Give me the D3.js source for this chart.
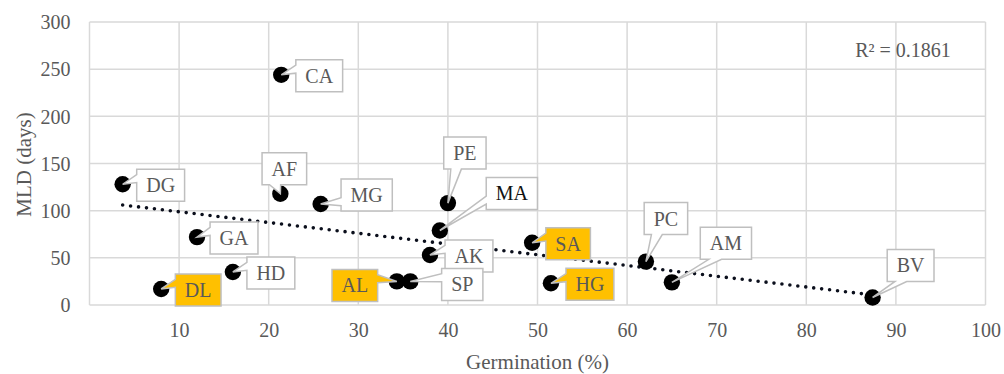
<!DOCTYPE html>
<html>
<head>
<meta charset="utf-8">
<script src="https://cdn.jsdelivr.net/npm/d3@7"></script>
<style>
  body { margin: 0; background: #fff; }
  svg { display: block; }
  text { font-family: "Liberation Serif", "Times New Roman", serif; }
</style>
</head>
<body>
<svg id="chart" width="1004" height="374"></svg>
<script>
// Sample codes with germination (%) and MLD (days)
const codes       = ["CA", "DG", "AF", "MG", "GA", "HD", "DL", "PE", "MA", "AK", "AL", "SP", "SA", "HG", "PC", "AM", "BV"];
const germination = [21.4, 3.7, 21.3, 25.8, 12.0, 16.0, 8.0, 40.0, 39.1, 38.0, 34.3, 35.8, 49.4, 51.5, 62.1, 65.0, 87.4];
const mld         = [244, 128, 118, 107, 72, 35, 17, 108, 79, 53, 25, 25, 66, 23, 46, 24, 8];

// Samples whose label is shaded
const highlighted = ["DL", "AL", "SA", "HG"];
const darkLabels = ["MA"];

const xTicks = [10, 20, 30, 40, 50, 60, 70, 80, 90, 100];
const yTicks = [0, 50, 100, 150, 200, 250, 300];
const xTitle = "Germination (%)";
const yTitle = "MLD (days)";
const rSquaredLabel = "R² = 0.1861";

// Callout placement: box centre relative to its point, in pixels
const calloutOffset = {
  CA: [38, 1], DG: [38, 1], AF: [4, -25], MG: [46, -9], GA: [37, 1], HD: [38, 1],
  DL: [37, 1], PE: [17, -50], MA: [72, -37], AK: [39, 1], AL: [-42, 4], SP: [52, 3],
  SA: [36, 1], HG: [39, 1], PC: [20, -43], AM: [54, -39], BV: [38, -32]
};

const svg = d3.select("#chart");
const plot = { left: 89.5, right: 985.5, top: 22, bottom: 305 };

const x = d3.scaleLinear().domain([0, 100]).range([plot.left, plot.right]);
const y = d3.scaleLinear().domain([0, 300]).range([plot.bottom, plot.top]);

const gridColor = "#d9d9d9";
const textColor = "#595959";

// Grid
const grid = svg.append("g");
grid.selectAll("line.v").data([0, ...xTicks]).join("line")
  .attr("x1", d => x(d)).attr("x2", d => x(d))
  .attr("y1", plot.top).attr("y2", plot.bottom)
  .attr("stroke", gridColor).attr("stroke-width", 1.5);
grid.selectAll("line.h").data(yTicks).join("line")
  .attr("y1", d => y(d)).attr("y2", d => y(d))
  .attr("x1", plot.left).attr("x2", plot.right)
  .attr("stroke", gridColor).attr("stroke-width", 1.5);

// Axes (labels only)
const xAxis = svg.append("g")
  .attr("transform", `translate(0,${plot.bottom})`)
  .call(d3.axisBottom(x).tickValues(xTicks).tickSize(0).tickPadding(0));
xAxis.select(".domain").remove();
xAxis.selectAll("text")
  .attr("y", 32).attr("dy", 0)
  .attr("fill", textColor).style("font-size", "20px")
  .style("font-family", "'Liberation Serif', 'Times New Roman', serif");

const yAxis = svg.append("g")
  .attr("transform", `translate(${plot.left},0)`)
  .call(d3.axisLeft(y).tickValues(yTicks).tickSize(0).tickPadding(0));
yAxis.select(".domain").remove();
yAxis.selectAll("text")
  .attr("x", -19).attr("dy", "0.34em")
  .attr("fill", textColor).style("font-size", "20px")
  .style("font-family", "'Liberation Serif', 'Times New Roman', serif");

// Axis titles
svg.append("text")
  .attr("x", (plot.left + plot.right) / 2).attr("y", 369)
  .attr("text-anchor", "middle").attr("fill", textColor)
  .style("font-size", "21px").text(xTitle);
svg.append("text")
  .attr("transform", `translate(31,${(plot.top + plot.bottom) / 2 + 1}) rotate(-90)`)
  .attr("text-anchor", "middle").attr("fill", textColor)
  .style("font-size", "21px").text(yTitle);

// Linear trendline (least squares)
const mx = d3.mean(germination), my = d3.mean(mld);
const sxy = d3.sum(germination, (g, i) => (g - mx) * (mld[i] - my));
const sxx = d3.sum(germination, g => (g - mx) * (g - mx));
const slope = sxy / sxx, intercept = my - slope * mx;
const xExtent = d3.extent(germination);
svg.append("path")
  .datum(xExtent)
  .attr("d", d3.line().x(d => x(d)).y(d => y(intercept + slope * d)))
  .attr("fill", "none").attr("stroke", "#0b0f1c")
  .attr("stroke-width", 3.6).attr("stroke-linecap", "round")
  .attr("stroke-dasharray", "0 8");

svg.append("text")
  .attr("x", 903).attr("y", 57)
  .attr("text-anchor", "middle").attr("fill", textColor)
  .style("font-size", "20px").text(rSquaredLabel);

// Points
const points = codes.map((c, i) => ({ code: c, gx: germination[i], my: mld[i] }));
svg.append("g").selectAll("circle").data(points).join("circle")
  .attr("cx", d => x(d.gx)).attr("cy", d => y(d.my)).attr("r", 8.2)
  .attr("fill", "#000");

// Rectangular callouts with a wedge pointing at each point
function calloutPath(l, t, w, h, xt, yt) {
  const r = l + w, b = t + h, hc = l + w / 2, vc = t + h / 2;
  const dxPos = xt - hc, dyPos = yt - vc;
  const dx = dxPos * h / w, dy = dyPos;
  const x1 = l + w * (dxPos > 0 ? 7 : 2) / 12, x2 = l + w * (dxPos > 0 ? 10 : 5) / 12;
  const y1 = t + h * (dyPos > 0 ? 7 : 2) / 12, y2 = t + h * (dyPos > 0 ? 10 : 5) / 12;
  let side;
  if (Math.abs(dx) > Math.abs(dy)) side = dx < 0 ? "left" : "right";
  else side = dy < 0 ? "top" : "bottom";
  const p = d3.path();
  p.moveTo(l, t);
  if (side === "top") { p.lineTo(x1, t); p.lineTo(xt, yt); p.lineTo(x2, t); }
  p.lineTo(r, t);
  if (side === "right") { p.lineTo(r, y1); p.lineTo(xt, yt); p.lineTo(r, y2); }
  p.lineTo(r, b);
  if (side === "bottom") { p.lineTo(x2, b); p.lineTo(xt, yt); p.lineTo(x1, b); }
  p.lineTo(l, b);
  if (side === "left") { p.lineTo(l, y2); p.lineTo(xt, yt); p.lineTo(l, y1); }
  p.closePath();
  return p.toString();
}

const callouts = svg.append("g").selectAll("g").data(points).join("g");
callouts.each(function (d) {
  const g = d3.select(this);
  const px = x(d.gx), py = y(d.my);
  const [ox, oy] = calloutOffset[d.code];
  const cx = px + ox, cy = py + oy;
  const shape = g.append("path");
  const label = g.append("text")
    .attr("x", cx).attr("y", cy + 7)
    .attr("text-anchor", "middle")
    .attr("fill", darkLabels.includes(d.code) ? "#111" : textColor)
    .style("font-size", "20px").text(d.code);
  const tw = label.node().getComputedTextLength();
  const w = tw + 19, h = 32;
  shape.attr("d", calloutPath(cx - w / 2, cy - h / 2, w, h, px, py))
    .attr("fill", highlighted.includes(d.code) ? "#ffc000" : "#fff")
    .attr("stroke", "#bfbfbf").attr("stroke-width", 1.5)
    .attr("stroke-linejoin", "miter");
});
</script>
</body>
</html>
